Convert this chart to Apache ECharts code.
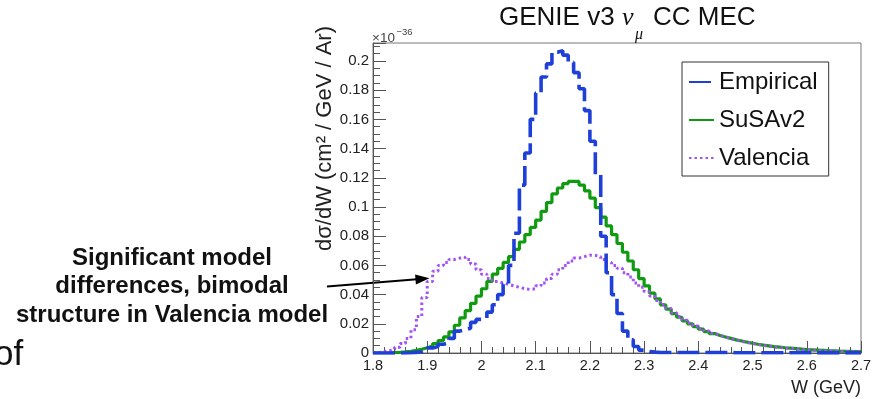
<!DOCTYPE html>
<html>
<head>
<meta charset="utf-8">
<script src="https://cdn.jsdelivr.net/npm/echarts@6.0.0/dist/echarts.min.js"></script>
<style>
  html, body { margin: 0; padding: 0; background: #fff; }
  #chart { width: 877px; height: 399px; }
</style>
</head>
<body>
<div id="chart"></div>
<script>
// histogram binning: 90 bins of 0.01 GeV from 1.8 to 2.7
const binLow = 1.8;
const binWidth = 0.01;
const xMin = 1.8, xMax = 2.7, xStep = 0.1;
const yMin = 0, yMax = 0.2123, yStep = 0.02;

const seriesNames = ["Empirical", "SuSAv2", "Valencia"];

// d sigma / dW, units of 1e-36 cm^2 / GeV / Ar
const empirical = [
  0, 0, 0, 0, 0, 0, 0.0002, 0.0004, 0.0008, 0.002,
  0.0035, 0.0045, 0.006, 0.007, 0.010, 0.015, 0.016, 0.017, 0.021, 0.023,
  0.024, 0.028, 0.033, 0.040, 0.047, 0.060, 0.082, 0.115, 0.137, 0.160,
  0.178, 0.189, 0.198, 0.206, 0.207, 0.204, 0.199, 0.192, 0.181, 0.166,
  0.145, 0.122, 0.080, 0.055, 0.040, 0.027, 0.015, 0.009, 0.0045, 0.002,
  0.001, 0.0006, 0.0003, 0.0003, 0.0003, 0.0003, 0.0003, 0.0003, 0.0003, 0.0003,
  0.0003, 0.0003, 0.0003, 0.0003, 0.0003, 0.0003, 0.0002, 0.0002, 0.0002, 0.0002,
  0.0002, 0.0002, 0.0002, 0.0002, 0.0002, 0.0002, 0.0002, 0.0002, 0.0002, 0.0002,
  0.0002, 0.0001, 0.0001, 0.0001, 0.0001, 0.0001, 0.0001, 0.0001, 0.0001, 0.0001
];

const susav2 = [
  0, 0, 0, 0.0003, 0.0005, 0.0008, 0.0012, 0.0018, 0.0026, 0.0036,
  0.0048, 0.0065, 0.0085, 0.011, 0.0145, 0.019, 0.024, 0.029, 0.034, 0.039,
  0.044, 0.049, 0.054, 0.058, 0.062, 0.066, 0.071, 0.076, 0.081, 0.086,
  0.091, 0.097, 0.103, 0.109, 0.113, 0.116, 0.1175, 0.1175, 0.115, 0.111,
  0.106, 0.0995, 0.093, 0.087, 0.081, 0.075, 0.069, 0.063, 0.057, 0.051,
  0.046, 0.041, 0.037, 0.033, 0.030, 0.027, 0.0245, 0.022, 0.020, 0.018,
  0.0163, 0.0147, 0.0133, 0.012, 0.011, 0.010, 0.009, 0.0082, 0.0074, 0.0067,
  0.006, 0.0054, 0.0049, 0.0044, 0.004, 0.0036, 0.0033, 0.003, 0.0027, 0.0024,
  0.0022, 0.002, 0.0018, 0.0016, 0.0015, 0.0013, 0.0012, 0.0011, 0.001, 0.0009
];

const valencia = [
  0.0003, 0.0008, 0.0015, 0.0025, 0.004, 0.0065, 0.010, 0.016, 0.025, 0.038,
  0.049, 0.056, 0.060, 0.062, 0.064, 0.065, 0.0655, 0.064, 0.061, 0.057,
  0.054, 0.051, 0.049, 0.048, 0.047, 0.046, 0.045, 0.044, 0.0435, 0.044,
  0.046, 0.048, 0.051, 0.054, 0.057, 0.060, 0.063, 0.065, 0.066, 0.067,
  0.0668, 0.066, 0.064, 0.062, 0.060, 0.058, 0.055, 0.052, 0.048, 0.045,
  0.042, 0.039, 0.036, 0.033, 0.0305, 0.0275, 0.025, 0.0225, 0.0205, 0.0185,
  0.0167, 0.015, 0.0135, 0.0122, 0.011, 0.0099, 0.0089, 0.0080, 0.0072, 0.0065,
  0.0058, 0.0052, 0.0047, 0.0042, 0.0038, 0.0034, 0.0031, 0.0028, 0.0025, 0.0022,
  0.002, 0.0018, 0.0016, 0.0015, 0.0013, 0.0012, 0.0011, 0.001, 0.0009, 0.0008
];

const annotationLines = ["Significant model", "differences, bimodal", "structure in Valencia model"];

const sans = "'Liberation Sans', Arial, Helvetica, sans-serif";
const serif = "'Liberation Serif', 'DejaVu Serif', serif";
const axisColor = "#555";

// turn bin contents into step points on bin low edges (+ closing point)
function toSteps(values) {
  const pts = values.map((v, i) => [+(binLow + i * binWidth).toFixed(3), v]);
  pts.push([+(binLow + values.length * binWidth).toFixed(3), values[values.length - 1]]);
  return pts;
}

function label(x, y, text, font, fill, align, extra) {
  return Object.assign({
    type: "text", x: x, y: y,
    style: { text: text, font: font, fill: fill, align: align, textAlign: align, verticalAlign: "middle", textVerticalAlign: "middle" }
  }, extra || {});
}

const chart = echarts.init(document.getElementById("chart"), null, { renderer: "canvas" });

const option = {
  animation: false,
  backgroundColor: "#fff",
  grid: {
    left: 373, right: 16, top: 43, bottom: 46,
    show: true, borderColor: "#777", borderWidth: 1, backgroundColor: "transparent"
  },
  legend: {
    orient: "vertical",
    left: 682, top: 62,
    padding: [8, 11, 6, 6],
    itemWidth: 25, itemHeight: 2, itemGap: 14,
    itemStyle: { opacity: 0 },
    borderColor: "#333", borderWidth: 1, backgroundColor: "#fff",
    selectedMode: false,
    textStyle: { fontFamily: sans, fontSize: 24, color: "#111" },
    data: seriesNames
  },
  xAxis: {
    type: "value", min: xMin, max: xMax, interval: xStep,
    axisLine: { onZero: false, lineStyle: { color: axisColor, width: 1 } },
    axisTick: { inside: true, length: 12, lineStyle: { color: axisColor } },
    minorTick: { show: true, splitNumber: 5, length: 6, lineStyle: { color: axisColor } },
    splitLine: { show: false },
    axisLabel: {
      margin: 5, fontFamily: sans, fontSize: 14.5, color: "#222",
      showMinLabel: true, showMaxLabel: true,
      formatter: (v) => String(+v.toFixed(1))
    }
  },
  yAxis: {
    type: "value", min: yMin, max: yMax, interval: yStep,
    axisLine: { show: true, onZero: false, lineStyle: { color: axisColor, width: 1 } },
    axisTick: { show: true, inside: true, length: 13, lineStyle: { color: axisColor } },
    minorTick: { show: true, splitNumber: 4, length: 7, lineStyle: { color: axisColor } },
    splitLine: { show: false },
    axisLabel: {
      margin: 4, fontFamily: sans, fontSize: 15, color: "#222",
      showMaxLabel: false,
      formatter: (v) => String(+v.toFixed(2))
    }
  },
  series: [
    {
      name: "SuSAv2", type: "line", step: "end", symbol: "none",
      data: toSteps(susav2),
      lineStyle: { color: "#109a10", width: 3.2 },
      itemStyle: { color: "#109a10" },
      z: 2
    },
    {
      name: "Valencia", type: "line", step: "end", symbol: "none",
      data: toSteps(valencia),
      lineStyle: { color: "#a352f5", width: 3, type: [2.5, 3] },
      itemStyle: { color: "#a352f5" },
      z: 3
    },
    {
      name: "Empirical", type: "line", step: "end", symbol: "none",
      data: toSteps(empirical),
      lineStyle: { color: "#1f40d8", width: 3.6, type: [22, 6] },
      itemStyle: { color: "#1f40d8" },
      z: 4
    }
  ],
  graphic: [
    // title
    label(499, 18, "GENIE v3", "26px " + sans, "#111", "left"),
    label(622, 18, "ν", "italic 26px " + serif, "#111", "left"),
    label(635, 35, "μ", "italic 16px " + serif, "#111", "left"),
    label(653, 18, "CC MEC", "26px " + sans, "#111", "left"),
    // exponent
    label(372, 38.5, "×10", "13.5px " + sans, "#444", "left"),
    label(396.5, 32, "−36", "9.5px " + sans, "#444", "left"),
    // axis titles
    label(325, 138.5, "dσ/dW (cm² / GeV / Ar)", "22px " + sans, "#222", "center", { rotation: Math.PI / 2 }),
    label(861, 388, "W (GeV)", "18px " + sans, "#222", "right"),
    // annotation with arrow
    { type: "text", x: 172, y: 286.7, style: { text: annotationLines.join("\n"), font: "bold 24px " + sans, lineHeight: 28.3, fill: "#111", align: "center", textAlign: "center", verticalAlign: "middle", textVerticalAlign: "middle" } },
    { type: "line", shape: { x1: 327, y1: 286.5, x2: 417, y2: 279.3 }, style: { stroke: "#000", lineWidth: 2 } },
    { type: "polygon", shape: { points: [[429.5, 278.3], [415.9, 284.4], [415.1, 274.4]] }, style: { fill: "#000" } },
    // stray slide text
    label(-6, 355, "of", "35px " + sans, "#111", "left")
  ]
};

chart.setOption(option);
</script>
</body>
</html>
